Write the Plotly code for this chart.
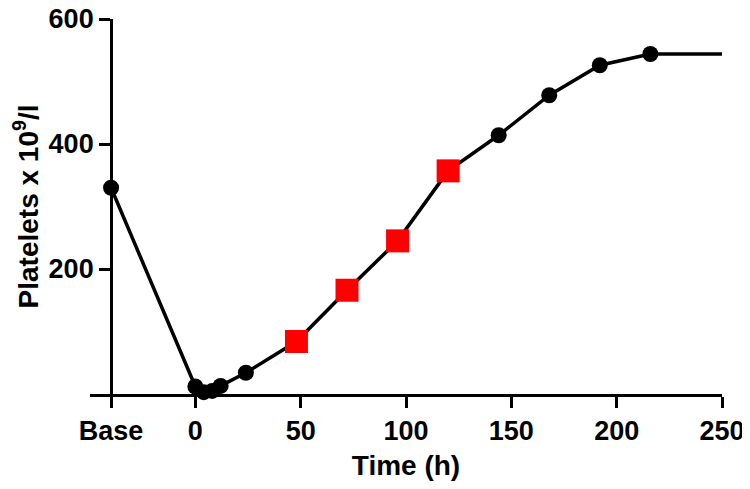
import plotly.graph_objects as go

# Data
base_label = "Base"
base_value = 330
hours = [0, 4, 8, 12, 24, 48, 72, 96, 120, 144, 168, 192, 216]
platelets = [12, 3, 5, 13, 34, 84, 166, 245, 357, 414, 478, 526, 544]
red_hours = [48, 72, 96, 120]
end_hour = 250
x_tick_vals = [0, 50, 100, 150, 200, 250]
y_tick_vals = [200, 400, 600]

BASE_POS = -40  # where the "Base" category sits on the x axis

plat_map = dict(zip(hours, platelets))
black_x = [BASE_POS] + [h for h in hours if h not in red_hours]
black_y = [base_value] + [plat_map[h] for h in hours if h not in red_hours]
red_x = red_hours
red_y = [plat_map[h] for h in red_hours]

line_x = [BASE_POS] + hours + [end_hour]
line_y = [base_value] + platelets + [platelets[-1]]

fig = go.Figure()
fig.add_trace(go.Scatter(x=line_x, y=line_y, mode="lines",
                         line=dict(color="black", width=3.5), cliponaxis=False,
                         hoverinfo="skip"))
fig.add_trace(go.Scatter(x=black_x, y=black_y, mode="markers",
                         marker=dict(symbol="circle", size=16, color="black"),
                         cliponaxis=False))
fig.add_trace(go.Scatter(x=red_x, y=red_y, mode="markers",
                         marker=dict(symbol="square", size=23, color="#ff0000"),
                         cliponaxis=False))

font = dict(family="Liberation Sans, Arial, sans-serif", color="black")
x_min, x_max = -50, 250
# page body has an 8px default margin, so the figure is sized to fit inside
fig.update_layout(
    width=742, height=481,
    margin=dict(l=82, r=28, t=11, b=95, autoexpand=False),
    paper_bgcolor="white", plot_bgcolor="white",
    showlegend=False,
    font=font,
    xaxis=dict(range=[x_min, x_max], showgrid=False, zeroline=False,
               automargin=False, ticklabeloverflow="allow",
               showline=True, linecolor="black", linewidth=3,
               ticks="outside", ticklen=11, tickwidth=3, tickcolor="black",
               tickvals=[BASE_POS] + x_tick_vals,
               ticktext=[base_label] + [str(v) for v in x_tick_vals],
               tickfont=dict(size=27, family="Liberation Sans", weight="bold"),
               title=dict(text="Time (h)", standoff=10,
                          font=dict(size=28, family="Liberation Sans", weight="bold"))),
    yaxis=dict(range=[0, 600], showgrid=False, zeroline=False,
               automargin=False, ticklabeloverflow="allow",
               anchor="free", position=(BASE_POS - x_min) / (x_max - x_min),
               showline=True, linecolor="black", linewidth=3,
               ticks="outside", ticklen=11, tickwidth=3, tickcolor="black",
               tickvals=y_tick_vals,
               tickfont=dict(size=27, family="Liberation Sans", weight="bold"),
               title=dict(text="Platelets x 10<sup>9</sup>/l", standoff=12,
                          font=dict(size=28, family="Liberation Sans", weight="bold"))),
)

fig.write_html("out.html")
